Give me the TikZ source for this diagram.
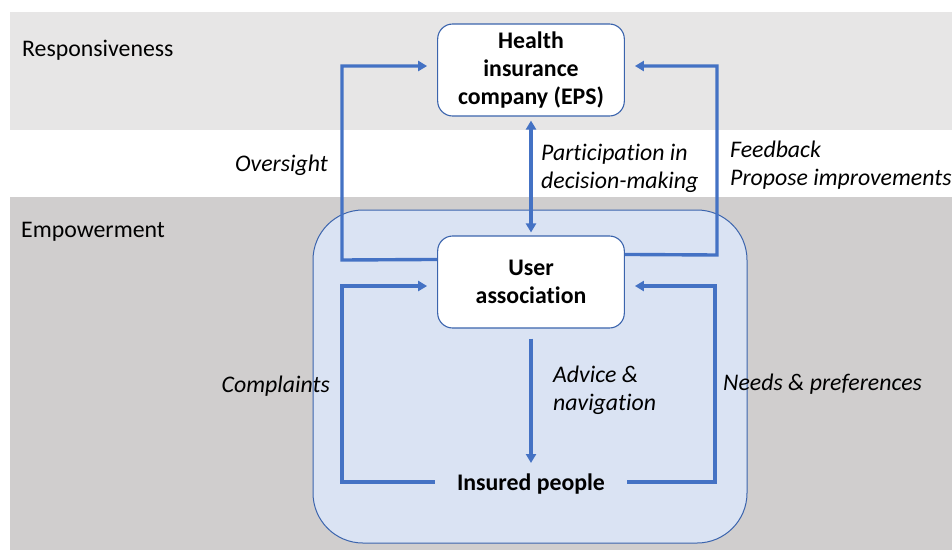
\documentclass[tikz,border=0pt]{standalone}
\usepackage{fontspec}
\setmainfont{Carlito}[Ligatures=NoCommon]
\usetikzlibrary{arrows.meta}
\definecolor{bandtop}{HTML}{E7E6E6}
\definecolor{bandbot}{HTML}{D0CECE}
\definecolor{areafill}{HTML}{DAE3F3}
\definecolor{arrowblue}{HTML}{4472C4}
\definecolor{edgeblue}{HTML}{3B64AD}
\newcommand{\fsz}{\fontsize{23.8}{28}\selectfont}
\begin{document}
\begin{tikzpicture}[x=1pt,y=-1pt,
  every node/.style={font=\fsz},
  box/.style={draw=edgeblue,line width=1.1pt,fill=white,rounded corners=15pt,
    minimum width=186pt,minimum height=92pt,align=center,
    font=\fsz\bfseries},
  arr/.style={draw=arrowblue,line width=3.4pt,-{Triangle[length=9pt,width=10pt]}},
  lab/.style={font=\fsz\itshape,align=left,inner sep=0pt},
  band/.style={font=\fsz,inner sep=0pt}]
\useasboundingbox (0,0) rectangle (952,550);
\fill[bandtop] (10,12) rectangle (952,130);
\fill[bandbot] (10,197) rectangle (952,550);
\filldraw[fill=areafill,draw=edgeblue,line width=1pt,rounded corners=50pt] (313,210) rectangle (747,543);
\node[band,anchor=west] (resp) at (22,50) {Responsiveness};
\node[band,anchor=west] (emp) at (21,232) {Empowerment};
\node[box] (eps) at (531,70) {\raisebox{-2pt}{\parbox{180pt}{\centering Health\\insurance\\company (EPS)}}};
\node[box] (ua) at (531,282) {\raisebox{-2pt}{\parbox{180pt}{\centering User\\association}}};
\node[font=\fsz\bfseries,inner xsep=22pt,inner ysep=0pt] (ip) at (531,484) {Insured people};
\coordinate (iptop) at (531,463);
\draw[arr] ([yshift=-24pt]ua.north west) -- (342,260) |- ([xshift=-10pt,yshift=4pt]eps.west);
\draw[arr] ([yshift=-19pt]ua.north east) -- (717,255) |- ([xshift=10pt,yshift=4pt]eps.east);
\draw[arr] ([yshift=2pt]ip.west) -- (342,482) |- ([xshift=-10pt,yshift=-4pt]ua.west);
\draw[arr] ([yshift=2pt]ip.east) -- (715,482) |- ([xshift=10pt,yshift=-4pt]ua.east);
\draw[arr,{Triangle[length=9pt,width=10pt]}-{Triangle[length=9pt,width=10pt]}] ([yshift=-4pt]eps.south) -- ([yshift=3pt]ua.north);
\draw[arr] ([yshift=-10pt]ua.south) -- (iptop);
\node[lab,anchor=east] (ov) at (328,165) {Oversight};
\node[lab,anchor=west] (part) at (541,168) {Participation in\\decision-making};
\node[lab,anchor=west] (fb) at (730,165) {Feedback\\Propose improvements};
\node[lab,anchor=east] (comp) at (330,386) {Complaints};
\node[lab,anchor=west] (adv) at (553,390) {Advice \&\\navigation};
\node[lab,anchor=west] (needs) at (723,384) {Needs \& preferences};
\end{tikzpicture}
\end{document}
